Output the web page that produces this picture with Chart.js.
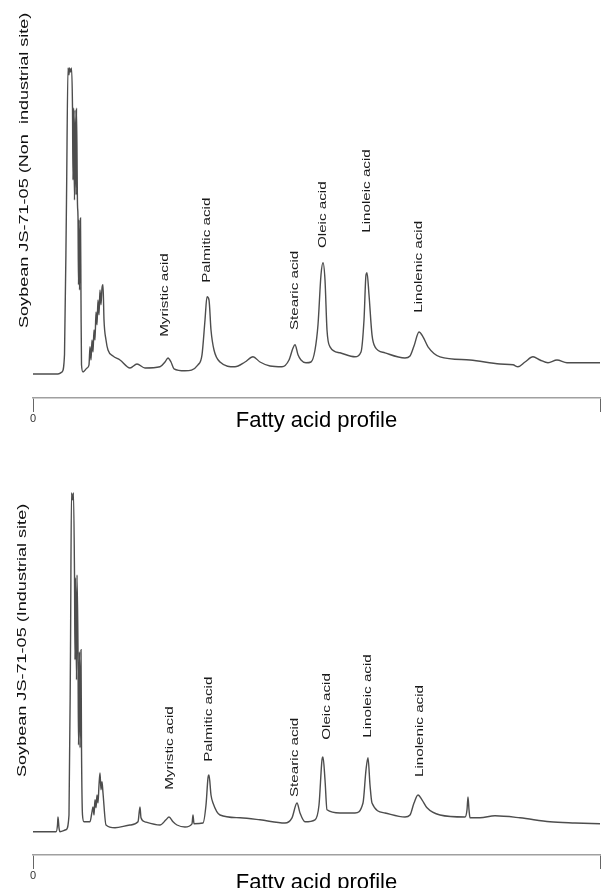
<!DOCTYPE html>
<html>
<head>
<meta charset="utf-8">
<script src="https://cdn.jsdelivr.net/npm/chart.js@4.4.1/dist/chart.umd.min.js"></script>
<style>
html, body { margin: 0; padding: 0; background: #fff; overflow: hidden; }
body { width: 603px; height: 888px; position: relative; }
canvas { position: absolute; left: 0; }
#topChart { top: 0; }
#bottomChart { top: 457px; }
</style>
</head>
<body>
<canvas id="topChart" width="603" height="457"></canvas>
<canvas id="bottomChart" width="603" height="457"></canvas>
<script>
// retention time (min) and detector response
const topTime = [0, 2.5, 2.9, 3.15, 3.35, 3.5, 3.6, 3.65, 3.75, 3.85, 3.95, 4.0, 4.05, 4.15, 4.2, 4.3, 4.35, 4.45, 4.5, 4.55, 4.6, 4.65, 4.75, 4.8, 4.85, 5.0, 5.4, 5.6, 5.7, 5.8, 5.9, 6.0, 6.1, 6.2, 6.3, 6.4, 6.5, 6.6, 6.7, 6.8, 6.9, 7.0, 7.1, 7.3, 7.5, 8.0, 8.7, 9.7, 10.4, 11.2, 12.7, 13.2, 13.5, 13.8, 14.1, 15.2, 16.5, 16.9, 17.2, 17.4, 17.6, 17.8, 18.1, 18.7, 20.2, 21.2, 22.0, 22.7, 23.7, 24.9, 25.6, 26.0, 26.2, 26.5, 26.8, 27.3, 27.8, 28.2, 28.5, 28.8, 29.0, 29.2, 29.4, 29.7, 30.7, 32.2, 32.8, 33.1, 33.3, 33.4, 33.6, 33.9, 34.2, 35.2, 37.2, 37.7, 38.1, 38.6, 39.0, 39.5, 40.7, 43.7, 46.7, 48.0, 48.5, 49.2, 50.0, 50.7, 51.5, 52.4, 53.4, 56.7];
const topSignal = [6, 6, 6.5, 10.8, 49.5, 82.5, 80.8, 82.5, 81.5, 82.5, 72.5, 54.5, 72.5, 49.5, 72, 50.8, 72.5, 48.3, 45.3, 28.3, 44.5, 27, 45, 24.5, 8.3, 6.5, 7.5, 8.3, 12.8, 9.5, 14.5, 11.5, 17, 14.5, 21.5, 18.3, 24.5, 20.8, 27, 23.3, 27.5, 28.3, 19.5, 14.5, 12, 10.5, 9.5, 7.5, 8.5, 7.5, 7.8, 9, 10, 9, 7.3, 6.8, 8.3, 10.8, 19.5, 25.3, 24.5, 17, 12, 9, 7.8, 9, 10.3, 9, 8, 7.8, 9.5, 12.5, 13.3, 10.8, 9.5, 8.8, 9, 12, 18.3, 30.8, 33.8, 29.5, 17, 12.8, 11.3, 10.3, 11.5, 19.5, 30.8, 31.3, 25.8, 15.8, 12.8, 11.3, 10, 10.5, 13, 16.5, 15.3, 12.8, 10.3, 9.5, 8.5, 8.3, 7.8, 9, 10.3, 9.5, 8.8, 9.5, 8.8, 8.8];

const bottomTime = [0, 2.3, 2.45, 2.5, 2.6, 2.7, 3.3, 3.6, 3.75, 3.85, 3.95, 4.05, 4.15, 4.2, 4.25, 4.35, 4.4, 4.5, 4.55, 4.65, 4.7, 4.8, 4.85, 4.95, 5.1, 5.7, 5.9, 6.0, 6.1, 6.2, 6.3, 6.4, 6.5, 6.6, 6.7, 6.8, 6.9, 7.0, 7.3, 8.2, 9.7, 10.5, 10.7, 10.8, 11.2, 12.7, 13.3, 13.6, 14.0, 14.4, 15.2, 15.9, 16.0, 16.1, 17.0, 17.3, 17.5, 17.6, 17.8, 18.0, 18.7, 20.7, 22.7, 25.2, 25.9, 26.4, 26.7, 27.2, 28.2, 28.6, 28.9, 29.0, 29.2, 29.4, 30.7, 32.2, 33.0, 33.3, 33.5, 33.7, 33.9, 35.2, 37.2, 37.7, 38.1, 38.5, 38.9, 39.4, 40.7, 43.2, 43.4, 43.5, 43.6, 43.7, 44.7, 46.2, 48.7, 51.7, 54.2, 56.7];
const bottomSignal = [5.8, 5.8, 7.5, 9.5, 6.8, 5.8, 6.3, 10, 51.3, 90.5, 88.8, 90.5, 70, 48.8, 69.3, 43.8, 70, 51.3, 27.5, 50.8, 26.8, 51.3, 27, 10, 8.3, 8.3, 10.8, 12, 10, 13.8, 11.8, 15, 13, 17.5, 20.5, 16.3, 18.3, 15.5, 7.5, 6.8, 7.5, 8.3, 12, 9.3, 8.3, 7.5, 8.8, 9.5, 8.3, 7.5, 7, 7.8, 10, 7.8, 8, 12.5, 19.3, 20, 15, 13, 10, 9.3, 8.8, 8, 9.3, 13, 10.5, 8.3, 8.8, 12.5, 23.8, 24.5, 18.8, 11.3, 10.5, 10.5, 13, 21.3, 24.3, 17.5, 13, 10.5, 9.5, 10, 13, 15, 13.8, 11.8, 10, 9.5, 11.3, 14.5, 11.3, 9.3, 9.3, 9.8, 9.3, 8.3, 8, 7.8];

const peakNames = ["Myristic acid", "Palmitic acid", "Stearic acid", "Oleic acid", "Linoleic acid", "Linolenic acid"];
const topPeakTime = [13.2, 17.4, 26.2, 29.0, 33.4, 38.6];
const topLabelBase = [15.3, 28.8, 17, 37.5, 41.3, 21.3];
const bottomPeakTime = [13.7, 17.6, 26.2, 29.4, 33.5, 38.7];
const bottomLabelBase = [16.3, 23.3, 14.5, 28.8, 29.3, 19.5];

const xTickValues = [0, 56.7];
const xTickLabels = ["0", ""];

const FONT = '"Liberation Sans", Arial, Helvetica, sans-serif';

// the scanned figure is stretched vertically, so upright text is drawn wider
function drawUpright(ctx, text, x, y, size, stretch, color) {
    ctx.save();
    ctx.translate(x, y);
    ctx.rotate(-Math.PI / 2);
    ctx.scale(stretch, 1);
    ctx.font = size + "px " + FONT;
    ctx.fillStyle = color;
    ctx.textAlign = "left";
    ctx.textBaseline = "middle";
    ctx.fillText(text, 0, 0);
    ctx.restore();
}

function makeChart(id, times, signal, peakTimes, labelBases, yTitle, yTitleX, yTitleBottom, titlePadTop, padBottom) {

    const points = times.map((t, i) => ({ x: t, y: signal[i] }));

    const peakLabels = {
        id: "peakLabels",
        afterDraw(chart) {
            const ctx = chart.ctx;
            const xs = chart.scales.x;
            const ys = chart.scales.y;
            peakNames.forEach((name, i) => {
                drawUpright(ctx, name, xs.getPixelForValue(peakTimes[i]), ys.getPixelForValue(labelBases[i]), 11, 1.38, "#1a1a1a");
            });
            drawUpright(ctx, yTitle, yTitleX, yTitleBottom, 13, 1.39, "#111");
        }
    };

    return new Chart(document.getElementById(id), {

        type: "line",

        data: {
            datasets: [{
                data: points,
                borderColor: "#4d4d4d",
                borderWidth: 1.4,
                pointRadius: 0,
                cubicInterpolationMode: "monotone",
                fill: false,
                clip: false
            }]
        },

        options: {
            responsive: false,
            animation: false,
            devicePixelRatio: 1,
            layout: {
                padding: { left: 33, right: 3, top: 34, bottom: padBottom }
            },
            plugins: {
                legend: { display: false },
                tooltip: { enabled: false }
            },
            scales: {
                x: {
                    type: "linear",
                    min: 0,
                    max: 56.7,
                    afterBuildTicks: (scale) => {
                        scale.ticks = xTickValues.map(v => ({ value: v }));
                    },
                    border: {
                        display: true,
                        color: "#a0a0a0",
                        width: 1.5,
                        dash: [2, 1]
                    },
                    grid: {
                        display: true,
                        drawOnChartArea: false,
                        drawTicks: true,
                        tickLength: 14,
                        color: "#666"
                    },
                    ticks: {
                        autoSkip: false,
                        maxRotation: 0,
                        padding: 0,
                        color: "#333",
                        font: { size: 11, family: FONT },
                        callback: (v) => xTickLabels[xTickValues.indexOf(v)]
                    },
                    title: {
                        display: true,
                        text: "Fatty acid profile",
                        color: "#000",
                        font: { size: 22, family: FONT, lineHeight: 1 },
                        padding: { top: titlePadTop, bottom: 0 }
                    }
                },
                y: {
                    display: false,
                    min: 0,
                    max: 91
                }
            }
        },

        plugins: [peakLabels]

    });
}

window.topChart = makeChart("topChart", topTime, topSignal, topPeakTime, topLabelBase,
    "Soybean JS-71-05 (Non  industrial site)", 24, 328, -15.2, 25);

window.bottomChart = makeChart("bottomChart", bottomTime, bottomSignal, bottomPeakTime, bottomLabelBase,
    "Soybean JS-71-05 (Industrial site)", 22.5, 320, -10.2, 20);
</script>
</body>
</html>
